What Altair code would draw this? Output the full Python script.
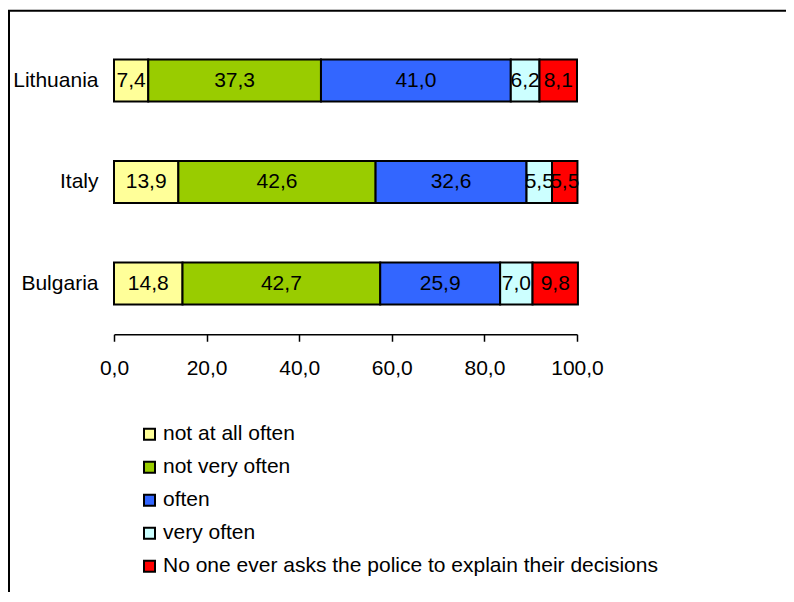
import altair as alt
import pandas as pd

countries = ["Lithuania", "Italy", "Bulgaria"]
categories = [
    "not at all often",
    "not very often",
    "often",
    "very often",
    "No one ever asks the police to explain their decisions",
]
colors = ["#FFFF99", "#99CC00", "#3366FF", "#CCFFFF", "#FF0000"]
lithuania = [7.4, 37.3, 41.0, 6.2, 8.1]
italy = [13.9, 42.6, 32.6, 5.5, 5.5]
bulgaria = [14.8, 42.7, 25.9, 7.0, 9.8]
x_ticks = [0, 20, 40, 60, 80, 100]

FONT = "Liberation Sans"
FS = 21

rows = []
for c, vals in zip(countries, [lithuania, italy, bulgaria]):
    for i, (cat, v) in enumerate(zip(categories, vals)):
        rows.append({
            "country": c,
            "category": cat,
            "order": i,
            "value": v,
            "label": f"{v:.1f}".replace(".", ","),
        })
df = pd.DataFrame(rows)

base = alt.Chart(df).transform_stack(
    stack="value", as_=["x0", "x1"], groupby=["country"],
    sort=[alt.SortField("order")]
).transform_calculate(mid="(datum.x0 + datum.x1) / 2")

yenc = alt.Y(
    "country:N", sort=countries,
    scale=alt.Scale(paddingInner=0.586, paddingOuter=0.293),
    axis=alt.Axis(title=None, ticks=False, tickSize=0, domain=False,
                  labelFontSize=FS, labelFont=FONT, labelColor="black",
                  labelPadding=16),
)

xscale = alt.Scale(domain=[0, 100], nice=False, zero=True)

bars = base.mark_bar(stroke="black", strokeWidth=2).encode(
    x=alt.X("x0:Q", scale=xscale,
            axis=alt.Axis(title=None, values=x_ticks, grid=False,
                          labelFlush=False,
                          labelExpr="replace(format(datum.value, '.1f'), '.', ',')",
                          domainColor="black", domainWidth=1.5,
                          tickColor="black", tickWidth=1.5, tickSize=7,
                          labelFontSize=FS, labelFont=FONT, labelColor="black",
                          labelPadding=16)),
    x2="x1:Q",
    y=yenc,
    color=alt.Color("category:N", sort=categories,
                    scale=alt.Scale(domain=categories, range=colors),
                    legend=alt.Legend(title=None, orient="none",
                                      legendX=25, legendY=394,
                                      symbolType="square", symbolSize=121,
                                      symbolStrokeColor="black", symbolStrokeWidth=2,
                                      labelFontSize=FS, labelFont=FONT,
                                      labelColor="black", labelLimit=1000,
                                      labelOffset=3, rowPadding=11)),
    order=alt.Order("order:Q"),
)

texts = base.mark_text(fontSize=FS, font=FONT, color="black").encode(
    x=alt.X("mid:Q", scale=xscale),
    y=alt.Y("country:N", sort=countries),
    text="label:N",
)

frame_df = pd.DataFrame({"k": [0]})
left_line = alt.Chart(frame_df).mark_rule(color="black", strokeWidth=2).encode(
    x=alt.value(-105), y=alt.value(-19), y2=alt.value(600)
)
top_line = alt.Chart(frame_df).mark_rule(color="black", strokeWidth=2).encode(
    x=alt.value(-106), x2=alt.value(680), y=alt.value(-19)
)

chart = alt.layer(bars, texts, left_line, top_line).properties(
    width=463, height=304.5,
    padding={"left": 106, "top": 21.75, "right": 209, "bottom": 258},
    autosize=alt.AutoSizeParams(type="none"),
).configure_view(stroke=None)

chart.save("out.html", embed_options={"renderer": "svg", "actions": False})
